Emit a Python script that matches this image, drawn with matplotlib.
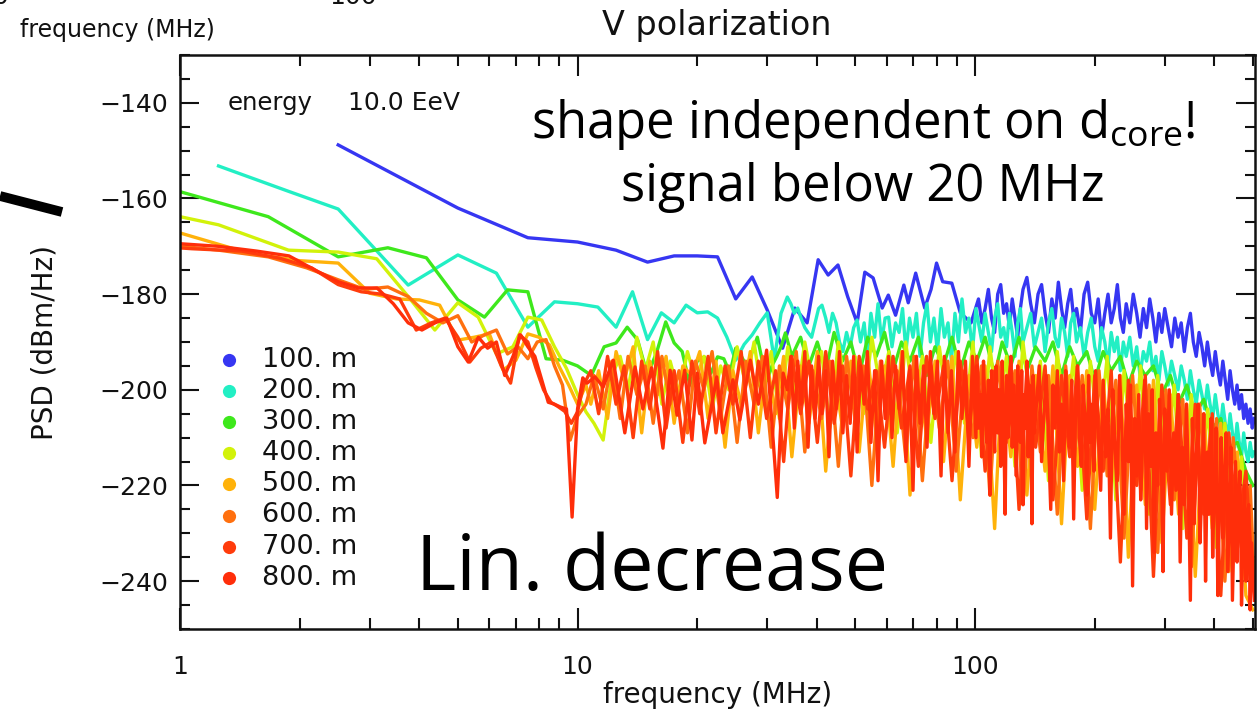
import matplotlib
matplotlib.use("Agg")
import matplotlib.pyplot as plt
from matplotlib.ticker import FixedLocator, FixedFormatter, MultipleLocator, NullFormatter
import numpy as np

ANNOT_FONT = 'Open Sans'
plt.rcParams['font.family'] = ['DejaVu Sans']
plt.rcParams['mathtext.fontset'] = 'custom'
plt.rcParams['mathtext.rm'] = ANNOT_FONT
plt.rcParams['mathtext.it'] = ANNOT_FONT + ':italic'
plt.rcParams['mathtext.bf'] = ANNOT_FONT + ':bold'

# ---------------- data ----------------
distances = ['100. m', '200. m', '300. m', '400. m', '500. m', '600. m', '700. m', '800. m']
colors = ['#3636f2', '#22efc4', '#3ee81c', '#d2f20a', '#ffb20a', '#ff700f', '#ff3c0c', '#ff2e0a']

# shared frequency grids (MHz) for the noisy part of the spectra
f_mid = [33.7, 34.4, 35.1, 35.8, 36.5, 37.3, 38.0, 38.8, 39.6, 40.4,
         41.2, 42.1, 42.9, 43.8, 44.7, 45.6, 46.5, 47.5, 48.5, 49.5,
         50.5, 51.5, 52.6, 53.6, 54.7, 55.9, 57.0, 58.2, 59.4, 60.6,
         61.8, 63.1, 64.4, 65.7, 67.0, 68.4, 69.8, 71.2, 72.7, 74.2,
         75.7, 77.2, 78.8, 80.4, 82.1, 83.7, 85.5, 87.2, 89.0, 90.8,
         92.7, 94.6, 96.5, 98.5, 100.5]

f_hi = [102, 104, 106, 108, 110, 112, 114, 116, 118, 120,
        122, 124, 126, 128, 130, 132, 135, 138, 141, 144,
        147, 150, 153, 156, 159, 162, 165, 168, 171, 174,
        177, 180, 184, 188, 192, 196, 200, 204, 208, 212,
        216, 220, 224, 228, 232, 236, 240, 245, 250, 255,
        260, 265, 270, 275, 280, 285, 290, 295, 300, 306,
        312, 318, 324, 330, 336, 342, 348, 354, 360, 366,
        372, 378, 384, 390, 396, 402, 408, 414, 420, 426,
        432, 438, 444, 450, 456, 462, 468, 474, 480, 486,
        492, 498, 504]

# finer sampling used for the 800 m trace above 100 MHz
f_dense = (list(range(101, 142)) + list(range(143, 202, 2))
           + list(range(204, 301, 3)) + list(range(304, 505, 4)))

f_band_a = [10.5, 11.0, 11.6, 12.2, 12.8, 13.4, 14.1, 14.8, 15.5, 16.3,
            17.1, 18.0, 18.9, 19.8, 20.8, 21.8, 22.9, 24.0, 25.2, 26.5,
            27.8, 29.2, 30.7, 32.2, 33.8, 35.5, 37.3, 39.1, 41.1, 43.1,
            45.3, 47.5, 49.9, 52.4, 55.0, 57.8, 60.7, 63.7, 66.9, 70.2,
            73.7, 77.4, 81.3, 85.4, 89.6, 94.1, 98.8, 103.8, 109, 114,
            120, 126, 132, 139, 146, 153, 161, 169, 177, 186,
            195, 205, 215, 226, 237, 249, 261, 274, 288, 302,
            317, 333, 350, 367, 385, 405, 425, 446, 468, 492, 505]

f_band_b = [10.8, 11.3, 11.9, 12.5, 13.1, 13.8, 14.5, 15.2, 15.9, 16.7,
            17.5, 18.4, 19.4, 20.3, 21.3, 22.3, 23.5, 24.6, 25.8, 27.2,
            28.5, 29.9, 31.5, 33.0, 34.6, 36.4, 38.2, 40.1, 42.1, 44.2,
            46.4, 48.7, 51.1, 53.7, 56.4, 59.2, 62.2, 65.3, 68.6, 72.0,
            75.5, 79.3, 83.3, 87.5, 91.8, 96.5, 101, 106, 112, 117,
            123, 129, 135, 142, 150, 157, 165, 173, 181, 191,
            200, 210, 220, 232, 243, 255, 268, 281, 295, 310,
            325, 341, 358, 376, 395, 415, 435, 457, 480, 500]

# 100 m
f_lo_100 = [2.5, 5.0, 7.5, 10.0, 12.5, 15.0, 17.5, 20.0, 22.5, 25.0,
            27.5, 30.0, 32.8, 35.2, 37.8, 40.3, 42.7, 45.2, 47.8, 50.5,
            52.8, 55.4, 58.4, 60.5, 63.1, 66.2, 67.9, 70.9, 74.7, 77.5,
            80.0, 82.9, 87.4, 91.8, 97.7]
p_lo_100 = [-148.8, -162.0, -168.2, -169.1, -170.8, -173.3, -172.0, -172.0, -172.2, -181.0,
            -176.4, -183.3, -191.3, -182.9, -186.0, -172.8, -176.0, -173.9, -180.5, -186.0,
            -175.4, -176.6, -182.9, -180.2, -184.4, -178.1, -181.8, -175.6, -182.9, -179.0,
            -173.5, -177.4, -177.7, -183.9, -186.0]
p_hi_100 = [-181, -186, -183, -179, -185, -188, -180, -178, -184, -182,
            -187, -181, -185, -189, -183, -179, -176.5, -182, -186, -180,
            -178, -184, -188, -181, -185, -177.5, -183, -187, -182, -179,
            -185, -183, -188, -180, -177.5, -184, -186, -181, -189, -184,
            -180, -186, -183, -178, -185, -188, -182, -186, -180, -184,
            -189, -183, -187, -181, -185, -190, -184, -188, -183, -187,
            -191, -185, -189, -186, -192, -187, -184, -190, -193, -188,
            -191, -195, -190, -194, -197, -192, -196, -199, -194, -198,
            -202, -196, -200, -203, -199, -204, -201, -206, -203, -207,
            -204, -208, -206]

# 200 m
f_lo_200 = [1.25, 1.875, 2.5, 3.75, 5.0, 6.25, 7.5, 8.75, 10.0, 11.25,
            12.5, 13.75, 15.0, 16.25, 17.5, 18.75, 20.0, 21.25, 22.5, 23.75,
            25.0, 26.25, 27.5, 28.75, 30.0, 31.25, 32.5]
p_lo_200 = [-153.2, -158.5, -162.2, -178.1, -171.8, -175.6, -186.9, -181.6, -182.0, -182.7,
            -186.9, -179.5, -189.5, -183.9, -186.0, -182.3, -183.9, -183.7, -185.0, -189.0,
            -193.8, -190.5, -188.5, -186.0, -183.9, -193.8, -184.0]
p_mid_200 = [-180.6, -182, -184, -182.9, -185, -187, -188, -189, -186, -183,
             -182.3, -185, -188, -184, -186, -190, -192, -188, -191, -187,
             -185.4, -190, -186, -193, -184, -189, -182, -190, -185, -184.8,
             -191, -186, -188, -183, -192, -185, -189, -184, -193, -186,
             -182, -190, -185, -192, -183, -189, -186, -194, -184, -190,
             -181, -188, -185, -192, -183]
p_hi_200 = [-186, -190, -184, -188, -192, -185, -182, -189, -187, -191,
            -184, -188, -193, -186, -183, -190, -187, -184, -191, -188,
            -185, -192, -186, -183, -189, -191, -185, -188, -193, -186,
            -184, -190, -187, -193, -188, -185, -191, -194, -187, -190,
            -195, -188, -192, -189, -196, -190, -193, -189, -195, -191,
            -197, -192, -194, -190, -196, -193, -198, -192, -195, -199,
            -194, -197, -200, -195, -198, -202, -196, -200, -203, -198,
            -201, -204, -199, -203, -206, -201, -205, -208, -203, -207,
            -210, -205, -209, -212, -207, -211, -214, -209, -213, -215,
            -211, -214, -213]

# 300 m
f_lo_300 = [0.833, 1.667, 2.5, 3.333, 4.167, 5.0, 5.833, 6.667, 7.5, 8.333,
            9.167, 10.0, 10.833, 11.667, 12.5, 13.333, 14.167, 15.0, 15.833, 16.667,
            17.5, 18.333, 19.167, 20.0, 20.833, 21.667, 22.5, 23.333, 24.167, 25.0,
            25.833, 26.667, 27.5, 28.333, 29.167, 30.0, 30.833, 31.667, 32.5, 33.333]
p_lo_300 = [-156.7, -163.8, -172.2, -170.3, -172.4, -181.2, -184.8, -179.1, -179.5, -193.5,
            -193.8, -195.0, -197.0, -191.0, -190.2, -186.9, -189.6, -197.0, -192.0, -185.8,
            -190.2, -192.0, -199.0, -194.0, -193.1, -196.5, -193.1, -193.5, -196.5, -191.3,
            -193.0, -195.2, -192.0, -189.0, -194.0, -198.0, -195.0, -193.1, -191.0, -188.1]
p_band_300 = [-193, -189, -195, -190, -196, -188, -194, -190, -197, -189,
              -193, -188, -196, -190, -194, -189, -197, -191, -195, -189,
              -196, -190, -194, -189, -197, -190, -195, -189, -196, -191,
              -194, -190, -197, -191, -195, -192, -198, -192, -196, -193,
              -199, -194, -197, -195, -201, -197, -203, -199, -205, -202,
              -208, -206, -212, -211, -217, -220]

# 400 m
f_lo_400 = [0.625, 1.25, 1.875, 2.5, 3.125, 3.75, 4.375, 5.0, 5.625, 6.25,
            6.875, 7.5, 8.125, 8.75, 9.375, 10.0]
p_lo_400 = [-160.2, -165.5, -170.8, -171.2, -172.6, -180.5, -187.5, -181.8, -184.8, -192.5,
            -191.0, -184.8, -185.4, -191.0, -195.5, -201.0]
p_band_400 = [-204.6, -207, -210.5, -197, -193, -200, -189, -196, -190, -203,
              -194, -201, -192, -198, -193, -204, -195, -200, -191, -199,
              -190, -202, -192, -206, -191, -203, -190, -199, -192, -208,
              -190, -201, -193, -205, -189, -200, -192, -209, -190, -203,
              -193, -211, -191, -204, -192, -207, -190, -214, -191, -205,
              -193, -216, -190, -206, -194, -219, -192, -208, -193, -221,
              -194, -210, -193, -223, -196, -214, -195, -226, -197, -216,
              -199, -229, -201, -219, -204, -233, -207, -226, -214, -236, -238]

# 500 m
f_lo_500 = [1.0, 1.5, 2.0, 2.5, 3.0, 3.5, 4.0, 4.5, 5.0, 5.5,
            6.0, 6.5, 7.0, 7.5, 8.0, 8.5, 9.0, 9.5, 10.0, 10.5]
p_lo_500 = [-167.2, -171.5, -173.0, -173.5, -179.8, -181.0, -181.2, -182.3, -189.6, -189.0,
            -188.3, -195.9, -193.8, -188.3, -189.0, -190.6, -195.2, -199.0, -203.0, -199.0]
p_band_500 = [-203, -196, -206, -192, -198, -191, -209, -194, -201, -193,
              -207, -195, -197, -192, -206, -194, -212, -196, -203, -192,
              -209, -194, -205, -193, -214, -195, -207, -192, -217, -196,
              -208, -194, -213, -193, -209, -195, -216, -192, -222, -196,
              -210, -194, -215, -193, -223, -197, -212, -195, -229, -196,
              -214, -194, -222, -197, -217, -195, -228, -197, -216, -196,
              -225, -198, -219, -197, -235, -199, -224, -198, -232, -201,
              -226, -203, -239, -205, -229, -207, -238, -213, -243, -246]

# 600 m
f_lo_600 = [0.833, 1.25, 1.667, 2.083, 2.5, 2.917, 3.333, 3.75, 4.167, 4.583,
            5.0, 5.417, 5.833, 6.25, 6.667, 7.083, 7.5, 7.917, 8.333, 8.75,
            9.167, 9.583, 10.0]
p_lo_600 = [-169.3, -170.8, -172.2, -174.5, -177.0, -179.0, -178.5, -180.5, -184.0, -186.0,
            -184.5, -190.0, -188.5, -187.5, -192.5, -191.0, -193.5, -190.0, -189.5, -195.0,
            -199.0, -210.5, -205.5]
p_band_600 = [-203, -197, -204, -194, -206, -193, -201, -195, -207, -193,
              -203, -196, -209, -194, -200, -192, -206, -195, -211, -194,
              -203, -193, -212, -195, -204, -192, -213, -196, -206, -194,
              -216, -193, -206, -195, -220, -194, -205, -196, -214, -193,
              -219, -195, -208, -194, -217, -196, -210, -195, -222, -194,
              -211, -196, -224, -195, -213, -197, -226, -195, -216, -197,
              -229, -196, -218, -198, -231, -197, -221, -199, -234, -200,
              -223, -202, -237, -203, -226, -206, -240, -210, -233, -220, -242]

# 700 m
f_lo_700 = [0.714, 1.071, 1.429, 1.786, 2.143, 2.5, 2.857, 3.214, 3.571, 3.929,
            4.286, 4.643, 5.0, 5.357, 5.714, 6.071, 6.429, 6.786, 7.143, 7.5,
            7.857, 8.214, 8.571, 8.929, 9.286, 9.643, 10.0, 10.357]
p_lo_700 = [-169.5, -170.5, -171.0, -172.5, -174.5, -178.0, -179.5, -180.0, -181.0, -187.5,
            -186.0, -185.0, -189.0, -194.2, -191.3, -190.0, -195.0, -198.6, -188.5, -190.0,
            -195.4, -200.0, -202.6, -203.5, -204.5, -207.0, -204.6, -199.0]
p_band_700 = [-196, -205, -193, -203, -195, -210, -194, -204, -192, -208,
              -196, -211, -194, -205, -193, -209, -195, -203, -192, -210,
              -194, -206, -196, -215, -193, -205, -194, -211, -192, -207,
              -195, -218, -193, -204, -196, -212, -193, -208, -195, -216,
              -193, -206, -195, -219, -194, -209, -193, -217, -196, -211,
              -194, -225, -196, -212, -195, -223, -197, -214, -195, -227,
              -197, -217, -196, -236, -198, -220, -197, -239, -199, -224,
              -201, -231, -203, -226, -205, -243, -209, -231, -217, -240]

# 800 m
f_lo_800 = [0.94, 1.25, 1.56, 1.88, 2.19, 2.5, 2.81, 3.13, 3.44, 3.75,
            4.06, 4.38, 4.69, 5.0, 5.31, 5.63, 5.94, 6.25, 6.56, 6.88,
            7.19, 7.5, 7.81, 8.13, 8.44, 8.75, 9.06, 9.38, 9.69, 10.0,
            10.31, 10.57, 11.07, 11.6, 12.3, 13.15, 13.95, 14.6, 15.35, 16.4,
            17.1, 17.8, 18.6, 19.4, 20.0, 20.9, 22.4, 23.2, 24.6, 25.6,
            26.4, 27.2, 28.5, 29.9, 31.8, 32.9]
p_lo_800 = [-169.3, -170.0, -171.0, -172.0, -175.0, -177.4, -178.7, -178.7, -182.0, -186.0,
            -187.5, -186.0, -185.0, -191.0, -194.2, -189.0, -191.3, -190.0, -197.0, -193.0,
            -188.5, -191.0, -193.0, -198.0, -202.6, -203.0, -203.6, -204.0, -226.6, -204.0,
            -197.5, -198.6, -197.3, -199.4, -193.8, -209.0, -195.2, -204.0, -195.4, -212.2,
            -195.9, -205.3, -195.9, -210.5, -196.5, -211.1, -197.3, -209.0, -197.9, -206.3,
            -200.0, -193.8, -203.0, -191.7, -222.5, -196.5]
p_mid_800 = [-200, -193, -208, -194, -203, -192, -212, -195, -206, -193,
             -205, -196, -214, -194, -204, -192, -209, -197, -207, -193,
             -213, -195, -203, -192, -211, -196, -219, -194, -206, -193,
             -210, -195, -204, -192, -215, -196, -221, -193, -207, -195,
             -212, -192, -205, -194, -218, -193, -209, -196, -213, -192,
             -206, -194, -216, -193, -210]
p_dense_800 = [-195, -208, -201, -214, -194, -205, -211, -198, -222, -196,
               -203, -213, -195, -209, -200, -216, -194, -206, -226, -197,
               -210, -202, -193, -212, -199, -207, -218, -195, -204, -211,
               -196, -224, -201, -208, -194, -214, -199, -205, -228, -197,
               -209,
               -202, -195, -215, -205, -197, -211, -225, -199, -208, -196,
               -213, -203, -219, -196, -207, -212, -198, -227, -204, -195,
               -210, -216, -199, -206, -222, -197, -211, -203, -217, -196,
               -209, -221, -198, -214, -204, -231, -200, -212, -219, -197,
               -208, -226, -203, -215, -199, -241, -206, -218, -201, -223,
               -210, -198, -229, -205, -216, -200, -234, -209, -220, -202,
               -213, -238, -204,
               -217, -200, -226, -209, -221, -201, -236, -212, -224, -203,
               -218, -244, -206, -228, -214, -203, -232, -220, -205, -240,
               -213, -226, -206, -235, -218, -208, -243, -224, -210, -231,
               -219, -209, -238, -226, -212, -244, -229, -215, -236, -222,
               -217, -245, -231, -220, -240, -226, -224, -246, -232, -238, -244]


def join(*parts):
    """Concatenate (frequency grid, values) pieces; a value list shorter
    than its grid is aligned with the high-frequency end of that grid."""
    f_all, p_all = [], []
    for grid, vals in parts:
        grid = list(grid)[len(grid) - len(vals):]
        f_all += grid
        p_all += list(vals)
    return np.array(f_all), np.array(p_all)


spectra = [
    join((f_lo_100, p_lo_100), (f_hi, p_hi_100)),
    join((f_lo_200, p_lo_200), (f_mid, p_mid_200), (f_hi, p_hi_200)),
    join((f_lo_300, p_lo_300), (f_band_b, p_band_300)),
    join((f_lo_400, p_lo_400), (f_band_a, p_band_400)),
    join((f_lo_500, p_lo_500), (f_band_b, p_band_500)),
    join((f_lo_600, p_lo_600), (f_band_a, p_band_600)),
    join((f_lo_700, p_lo_700), (f_band_b, p_band_700)),
    join((f_lo_800, p_lo_800), (f_mid, p_mid_800), (f_dense, p_dense_800)),
]

# ---------------- figure ----------------
W, H = 1258, 718
fig = plt.figure(figsize=(W / 100, H / 100), dpi=100)
ax_l, ax_r, ax_t, ax_b = 180, 1255, 55, 629
ax = fig.add_axes([ax_l / W, 1 - ax_b / H, (ax_r - ax_l) / W, (ax_b - ax_t) / H])

for (f, p), c in zip(spectra, colors):
    ax.plot(f, p, color=c, lw=2.4, solid_joinstyle='round')

ax.set_xscale('log')
ax.set_xlim(1, 506)
ax.set_ylim(-250, -130)

ax.xaxis.set_major_locator(FixedLocator([1, 10, 100]))
ax.xaxis.set_major_formatter(FixedFormatter(['1', '10', '100']))
minors = [m * d for d in (1, 10, 100) for m in range(2, 10)]
ax.xaxis.set_minor_locator(FixedLocator(minors))
ax.xaxis.set_minor_formatter(NullFormatter())
ax.yaxis.set_major_locator(MultipleLocator(20))
ax.yaxis.set_minor_locator(MultipleLocator(5))

ax.tick_params(which='both', direction='in', top=True, right=True,
               width=1.5, color='#111111', labelsize=18, labelcolor='#111111')
ax.tick_params(axis='x', which='major', length=15, pad=18.5)
ax.tick_params(axis='x', which='minor', length=8)
ax.tick_params(axis='y', which='major', length=14, pad=8.5)
ax.tick_params(axis='y', which='minor', length=7)
for s in ax.spines.values():
    s.set_linewidth(1.8)
    s.set_color('#111111')

ax.set_xlabel('frequency (MHz)', fontsize=20, color='#111111', va='center')
ax.xaxis.set_label_coords(0.5, (ax_b - 695) / (ax_b - ax_t))
ax.set_ylabel('PSD (dBm/Hz)', fontsize=20, color='#111111', va='center', ha='center')
ax.yaxis.set_label_coords((45 - ax_l) / (ax_r - ax_l), 0.5)

fig.text(717 / W, 1 - 25 / H, 'V polarization', fontsize=24, ha='center', va='center',
         color='#111111')


def axy(px, py):
    return (px - ax_l) / (ax_r - ax_l), (ax_b - py) / (ax_b - ax_t)


ax.text(*axy(228, 103), 'energy', transform=ax.transAxes, fontsize=17.5,
        ha='left', va='center', color='#111111')
ax.text(*axy(348, 103), '10.0 EeV', transform=ax.transAxes, fontsize=18,
        ha='left', va='center', color='#111111')

# legend: coloured dots with core distances
for i, (lab, c) in enumerate(zip(distances, colors)):
    yy = 360 + 31.1 * i
    mx, my = axy(229, yy)
    ax.plot([mx], [my], 'o', color=c, ms=9.5, mec='none', transform=ax.transAxes,
            clip_on=False)
    tx, ty = axy(262, yy)
    ax.text(tx, ty, lab, transform=ax.transAxes, fontsize=19.5, ha='left',
            va='center', color='#111111')

# annotations
fig.text(863 / W, 1 - 138 / H, r'shape independent on d$_{\mathrm{core}}$!', fontsize=36.5,
         family=ANNOT_FONT, ha='center', va='baseline', color='black')
fig.text(863 / W, 1 - 201 / H, 'signal below 20 MHz', fontsize=36.5, family=ANNOT_FONT,
         ha='center', va='baseline', color='black')
fig.text(652 / W, 1 - 590 / H, 'Lin. decrease', fontsize=55.5, family=ANNOT_FONT,
         ha='center', va='baseline', color='black')

# fragments of the neighbouring panel
fig.text(20 / W, 1 - 30 / H, 'frequency (MHz)', fontsize=17, ha='left', va='center',
         color='#111111')
fig.text(353 / W, 1 + 3 / H, '100', fontsize=18, ha='center', va='center', color='#111111')
fig.text(8 / W, 1 + 3 / H, '0', fontsize=18, ha='right', va='center', color='#111111')
fig.add_artist(plt.Line2D([0, 62 / W], [1 - 196 / H, 1 - 212 / H], color='black', lw=7,
                          solid_capstyle='butt', transform=fig.transFigure))

fig.savefig('out.png', dpi=100)
